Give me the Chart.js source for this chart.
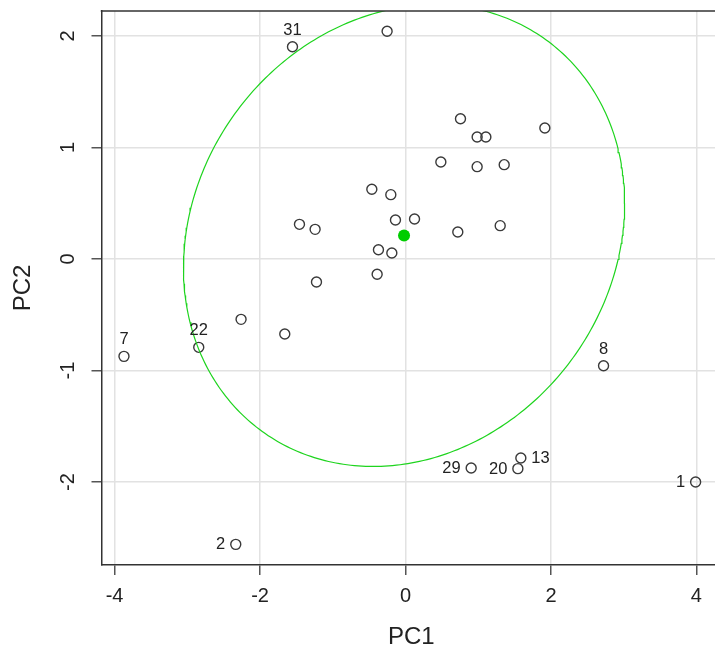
<!DOCTYPE html>
<html>
<head>
<meta charset="utf-8">
<script src="https://cdn.jsdelivr.net/npm/chart.js@4/dist/chart.umd.min.js"></script>
<style>
html,body{margin:0;padding:0;background:#fff;overflow:hidden;width:715px;height:653px;}
#wrap{width:721px;height:653px;position:relative;}
canvas{display:block;}
</style>
</head>
<body>
<div id="wrap"><canvas id="c" width="721" height="653" style="width:721px;height:653px"></canvas></div>
<script>
// ---- data ----
const obsNumbers = [1, 2, 3, 4, 5, 6, 7, 8, 9, 10, 11, 12, 13, 14, 15, 16, 17, 18, 19, 20, 21, 22, 23, 24, 25, 26, 27, 28, 29, 30, 31];
const pc1 = [3.989, -2.334, -0.253, 0.756, 0.985, 1.105, -3.871, 2.723, 1.916, 0.486, 0.985, 1.357, 1.586, -0.463, -0.202, -0.138, 0.124, 0.719, 1.302, 1.545, -0.372, -2.843, -0.188, -0.390, -1.458, -1.243, -1.224, -2.261, 0.903, -1.660, -1.554];
const pc2 = [-2.000, -2.559, 2.042, 1.258, 1.094, 1.094, -0.873, -0.957, 1.175, 0.870, 0.828, 0.846, -1.785, 0.625, 0.577, 0.350, 0.359, 0.242, 0.299, -1.880, 0.083, -0.792, 0.054, -0.137, 0.311, 0.266, -0.206, -0.541, -1.874, -0.673, 1.904];
const labeledObs = [1, 2, 7, 8, 13, 20, 22, 29, 31];
const centroid = [-0.02, 0.21];
// ellipse: x = cx + semiX*cos t ; y = cy + crossY*cos t + semiY*sin t
const ellipseSemiX = 3.033;
const ellipseCrossY = 0.29;
const ellipseSemiY = 2.05;
const xTicks = [-4, -2, 0, 2, 4];
const yTicks = [-2, -1, 0, 1, 2];
const xTitle = 'PC1';
const yTitle = 'PC2';

// ---- build library data ----
const points = pc1.map((x, i) => ({x: x, y: pc2[i], obs: obsNumbers[i]}));
const ellipsePts = [];
for (let i = 0; i <= 360; i++) {
  const t = i / 360 * Math.PI * 2;
  ellipsePts.push({
    x: centroid[0] + ellipseSemiX * Math.cos(t),
    y: centroid[1] + ellipseCrossY * Math.cos(t) + ellipseSemiY * Math.sin(t)
  });
}

const FONT = "'Liberation Sans', Arial, Helvetica, sans-serif";
const labelSide = {1: 'left', 2: 'left', 7: 'top', 8: 'top', 13: 'right', 20: 'left', 22: 'top', 29: 'left', 31: 'top'};

const framePlugin = {
  id: 'frame',
  afterDatasetsDraw(chart) {
    const a = chart.chartArea, ctx = chart.ctx;
    ctx.save();
    ctx.strokeStyle = '#333';
    ctx.lineWidth = 1.5;
    ctx.beginPath();
    ctx.moveTo(a.left - 0.75, a.top);
    ctx.lineTo(chart.width, a.top);
    ctx.stroke();
    ctx.restore();
  }
};

const labelPlugin = {
  id: 'pointLabels',
  afterDatasetsDraw(chart) {
    const meta = chart.getDatasetMeta(1);
    const ctx = chart.ctx;
    ctx.save();
    ctx.font = '16.5px ' + FONT;
    ctx.fillStyle = '#222';
    points.forEach((p, i) => {
      if (!labeledObs.includes(p.obs)) return;
      const el = meta.data[i];
      const side = labelSide[p.obs] || 'top';
      const txt = String(p.obs);
      if (side === 'top') {
        ctx.textAlign = 'center'; ctx.textBaseline = 'middle';
        ctx.fillText(txt, el.x, el.y - 16.5);
      } else if (side === 'left') {
        ctx.textAlign = 'right'; ctx.textBaseline = 'middle';
        ctx.fillText(txt, el.x - 10.5, el.y + 0.5);
      } else {
        ctx.textAlign = 'left'; ctx.textBaseline = 'middle';
        ctx.fillText(txt, el.x + 10.5, el.y + 0.5);
      }
    });
    ctx.restore();
  }
};

const gridOpts = {color: '#e2e2e2', lineWidth: 1.5, tickColor: '#555', tickLength: 10, tickWidth: 1.5};
const borderOpts = {display: true, color: '#333', width: 1.5};

new Chart(document.getElementById('c'), {
  type: 'scatter',
  data: {
    datasets: [
      {label: 'ellipse', data: ellipsePts, showLine: true, pointRadius: 0, borderColor: '#1ed41e', borderWidth: 1.2, fill: false, tension: 0},
      {label: 'observations', data: points, pointRadius: 5, pointHoverRadius: 5, borderColor: '#3a3a3a', borderWidth: 1.4, backgroundColor: 'rgba(0,0,0,0)'},
      {label: 'centroid', data: [{x: centroid[0], y: centroid[1]}], pointRadius: 6, backgroundColor: '#00cd00', borderColor: '#00cd00', borderWidth: 0}
    ]
  },
  options: {
    responsive: false,
    animation: false,
    devicePixelRatio: 1,
    events: [],
    layout: {autoPadding: false, padding: {top: 11, left: 0, right: 0, bottom: 0}},
    plugins: {legend: {display: false}, tooltip: {enabled: false}},
    scales: {
      x: {
        type: 'linear', min: -4.18, max: 4.338,
        afterBuildTicks: s => { s.ticks = xTicks.map(v => ({value: v})); },
        afterFit: s => { s.height = 88; s.paddingLeft = 0; s.paddingRight = 0; },
        grid: gridOpts, border: borderOpts,
        ticks: {font: {family: FONT, size: 20}, color: '#222', padding: 9, maxRotation: 0, autoSkip: false},
        title: {display: true, text: xTitle, font: {family: FONT, size: 24}, color: '#222', padding: {top: 0, bottom: 1.6}}
      },
      y: {
        type: 'linear', min: -2.744, max: 2.224,
        afterBuildTicks: s => { s.ticks = yTicks.map(v => ({value: v})); },
        afterFit: s => { s.width = 101.5; s.paddingTop = 0; s.paddingBottom = 0; },
        grid: gridOpts, border: borderOpts,
        ticks: {font: {family: FONT, size: 20}, color: '#222', padding: 14, minRotation: 90, maxRotation: 90, crossAlign: 'center', autoSkip: false},
        title: {display: true, text: yTitle, font: {family: FONT, size: 24}, color: '#222', padding: {top: 9, bottom: 0}}
      }
    }
  },
  plugins: [framePlugin, labelPlugin]
});
</script>
</body>
</html>
